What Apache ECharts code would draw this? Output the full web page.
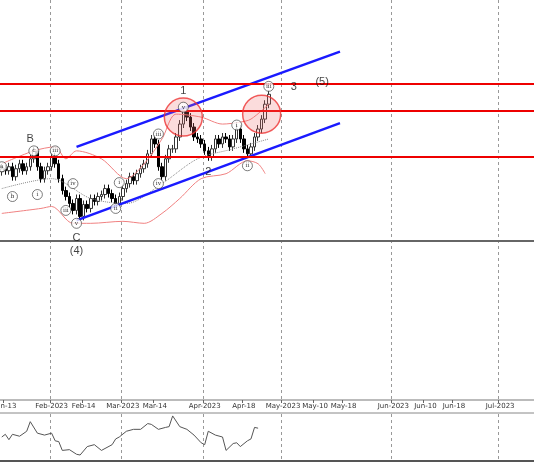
<!DOCTYPE html>
<html>
<head>
<meta charset="utf-8">
<script src="https://cdn.jsdelivr.net/npm/echarts@6/dist/echarts.min.js"></script>
<style>html,body{margin:0;padding:0;background:#fff}#main{width:534px;height:462px}</style>
</head>
<body>
<div id="main"></div>
<script>
'use strict';

// closes (one per trading day, from 2023-01-12)
var closes = [233, 231, 235, 225, 233, 238, 231, 235, 243, 251, 235, 223, 231, 235, 245, 238, 223, 211, 205, 198,
    191, 203, 185, 197, 193, 203, 200, 205, 207, 213, 208, 203, 198, 205, 213, 218, 225, 221, 228, 233,
    238, 248, 263, 258, 235, 225, 243, 253, 253, 265, 278, 291, 285, 275, 265, 263, 258, 251, 245, 253,
    263, 258, 265, 263, 255, 263, 273, 263, 253, 248, 255, 265, 273, 283, 298, 308];
var bandUpper = [[0, 238], [9, 251], [15, 255], [18, 243], [21, 251], [28, 243], [35, 223], [40, 238], [45, 263], [49, 288], [56, 285], [62, 278], [67, 280], [70, 283], [75, 298]];
var bandLower = [[0, 188], [11, 193], [14, 195], [20, 178], [25, 178], [34, 180], [40, 178], [45, 188], [50, 203], [56, 223], [63, 228], [69, 241], [72, 238], [74, 228]];
var bandMid = [[0, 213], [14, 223], [25, 203], [35, 198], [45, 218], [55, 243], [65, 253], [75, 263]];
var channelUp = [[21, 255], [95, 351]];
var channelDown = [[21, 181], [95, 279]];
var levels = [319, 291, 245];
var osc = [[0, 55], [1, 62], [2, 48], [3, 62], [5, 57], [7, 70], [8, 95], [10, 65], [12, 60], [14, 65], [15, 45], [16, 43], [17, 20], [19, 22], [21, 10], [22, 8], [24, 30], [26, 35], [28, 20], [31, 35], [32, 50], [33, 55], [35, 70], [37, 75], [39, 75], [41, 90], [42, 88], [44, 75], [46, 80], [47, 82], [48, 110], [50, 82], [52, 75], [54, 60], [56, 40], [57, 35], [58, 70], [60, 60], [62, 55], [63, 20], [65, 38], [66, 40], [67, 30], [69, 45], [70, 50], [71, 80], [72, 78]];
var circles = [[51, 285], [73, 288]];
var waveText = [[51, 311, '1'], [58, 230, '2'], [82, 315, '3'], [90, 320, '(5)'], [8, 263, 'B'], [21, 163, 'C'], [21, 150, '(4)']];
var romanMarks = [[0, 235, 'a'], [3, 205, 'b'], [9, 251, 'c'], [10, 207, 'i'], [15, 251, 'iii'], [20, 218, 'iv'], [18, 191, 'iii'], [21, 178, 'v'], [32, 193, 'ii'], [33, 219, 'i'], [44, 218, 'iv'], [44, 268, 'iii'], [51, 295, 'v'], [66, 277, 'i'], [69, 236, 'ii'], [75, 316, 'iii']];
var tickLabels = {
    '2023-01-13': 'Jan-13', '2023-02-01': 'Feb-2023', '2023-02-14': 'Feb-14', '2023-03-01': 'Mar-2023',
    '2023-03-14': 'Mar-14', '2023-04-03': 'Apr-2023', '2023-04-18': 'Apr-18', '2023-05-01': 'May-2023',
    '2023-05-10': 'May-10', '2023-05-18': 'May-18', '2023-06-01': 'Jun-2023', '2023-06-10': 'Jun-10',
    '2023-06-18': 'Jun-18', '2023-07-01': 'Jul-2023'
};
var monthStarts = ['2023-02-01', '2023-03-01', '2023-04-03', '2023-05-01', '2023-06-01', '2023-07-01'];

// weekdays up to the last candle, then every calendar day
function buildDates() {
    var out = [];
    var d = new Date(Date.UTC(2023, 0, 12));
    var end = new Date(Date.UTC(2023, 6, 10));
    var cut = new Date(Date.UTC(2023, 3, 29));
    while (d <= end) {
        var wd = d.getUTCDay();
        if (d >= cut || (wd !== 0 && wd !== 6)) out.push(d.toISOString().slice(0, 10));
        d.setUTCDate(d.getUTCDate() + 1);
    }
    return out;
}
var dates = buildDates();

var candles = closes.map(function(c, i) {
    var o = i === 0 ? 230 : closes[i - 1];
    return [o, c, Math.min(o, c) - 4, Math.max(o, c) + 4];
});

function isMonth(idx) { return monthStarts.indexOf(dates[idx]) >= 0; }

var xBase = {
    type: 'category',
    data: dates,
    boundaryGap: true,
    axisTick: { show: false },
    splitLine: { show: true, interval: function(i) { return isMonth(i); }, lineStyle: { color: '#999', type: [3, 3], width: 1 } }
};

var option = {
    animation: false,
    grid: [
        { left: 0, right: 0, top: 0, height: 400, containLabel: false, outerBoundsMode: 'none' },
        { left: 0, right: 0, top: 414, height: 46, containLabel: false, outerBoundsMode: 'none' }
    ],
    xAxis: [
        Object.assign({}, xBase, {
            gridIndex: 0,
            axisLine: { lineStyle: { color: '#bbb', width: 2 } },
            axisTick: { show: true, interval: function(i) { return !!tickLabels[dates[i]]; }, length: 3, lineStyle: { color: '#666' } },
            axisLabel: {
                interval: function(i) { return !!tickLabels[dates[i]]; },
                formatter: function(v) { return tickLabels[v] || ''; },
                fontSize: 7, color: '#333', margin: 3, fontFamily: 'DejaVu Sans'
            }
        }),
        Object.assign({}, xBase, { gridIndex: 1, axisLine: { show: false }, axisLabel: { show: false } })
    ],
    yAxis: [
        { gridIndex: 0, min: 0, max: 403, show: false },
        { gridIndex: 1, min: -5, max: 115, show: false }
    ],
    graphic: [
        { type: 'line', shape: { x1: 0, y1: 413, x2: 534, y2: 413 }, style: { stroke: '#888', lineWidth: 1 } },
        { type: 'line', shape: { x1: 0, y1: 461, x2: 534, y2: 461 }, style: { stroke: '#555', lineWidth: 2 } }
    ],
    series: [
        {
            type: 'line', data: [], markLine: {
                symbol: 'none', silent: true, label: { show: false },
                data: levels.map(function(v) { return { yAxis: v, lineStyle: { color: '#e00', width: 2, type: 'solid' } }; })
                    .concat([{ yAxis: 160, lineStyle: { color: '#666', width: 2, type: 'solid' } }])
            }
        },
        { type: 'line', data: bandUpper, smooth: 0.3, symbol: 'none', lineStyle: { color: '#f08080', width: 1 } },
        { type: 'line', data: bandLower, smooth: 0.3, symbol: 'none', lineStyle: { color: '#f08080', width: 1 } },
        { type: 'line', data: bandMid, smooth: 0.3, symbol: 'none', lineStyle: { color: '#888', width: 1, type: 'dotted' } },
        {
            type: 'candlestick', data: candles, barWidth: 3,
            itemStyle: { color: '#fff', color0: '#000', borderColor: '#333', borderColor0: '#000', borderWidth: 1 }
        },
        { type: 'line', data: channelUp, symbol: 'none', lineStyle: { color: '#1a1aff', width: 2.5 } },
        { type: 'line', data: channelDown, symbol: 'none', lineStyle: { color: '#1a1aff', width: 2.5 } },
        {
            type: 'scatter', data: circles, symbolSize: 38, z: 5,
            itemStyle: { color: 'rgba(240,110,110,0.3)', borderColor: '#e33', borderWidth: 1.5 }
        },
        {
            type: 'scatter', data: romanMarks, symbolSize: 10, z: 6,
            itemStyle: { color: '#fff', borderColor: '#333', borderWidth: 0.8 },
            label: { show: true, position: 'inside', formatter: function(p) { return p.data[2]; }, fontSize: 6, color: '#000', fontFamily: 'DejaVu Serif' }
        },
        {
            type: 'scatter', data: waveText, symbolSize: 1, z: 6,
            itemStyle: { color: 'rgba(0,0,0,0)' },
            label: { show: true, position: 'inside', formatter: function(p) { return p.data[2]; }, fontSize: 11, color: '#111', fontFamily: 'Liberation Sans' }
        },
        {
            type: 'line', xAxisIndex: 1, yAxisIndex: 1, data: osc, symbol: 'none',
            lineStyle: { color: '#555', width: 1 }
        }
    ]
};

var myChart = echarts.init(document.getElementById('main'));
myChart.setOption(option);
</script>
</body>
</html>
